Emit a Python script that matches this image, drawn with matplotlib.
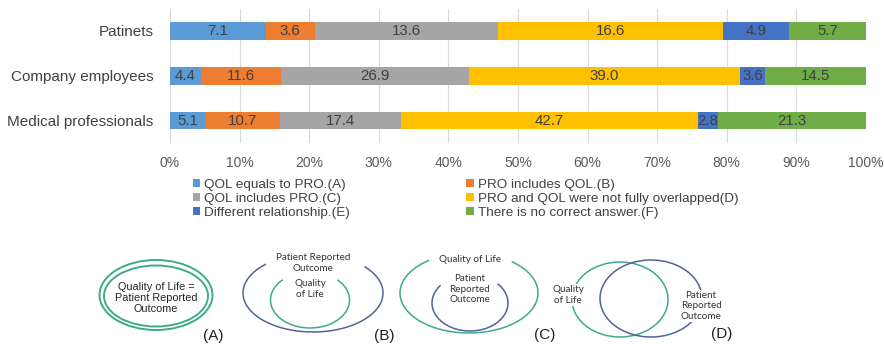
import matplotlib.pyplot as plt
import numpy as np
from matplotlib.patches import Ellipse, Patch

plt.rcParams["font.family"] = ["Liberation Sans", "DejaVu Sans"]

groups = ["Patinets", "Company employees", "Medical professionals"]
answers = [
    "QOL equals to PRO.(A)",
    "PRO includes QOL.(B)",
    "QOL includes PRO.(C)",
    "PRO and QOL were not fully overlapped(D)",
    "Different relationship.(E)",
    "There is no correct answer.(F)",
]
colors = ["#5B9BD5", "#ED7D31", "#A5A5A5", "#FFC000", "#4472C4", "#70AD47"]

qol_equals_pro = [7.1, 4.4, 5.1]
pro_includes_qol = [3.6, 11.6, 10.7]
qol_includes_pro = [13.6, 26.9, 17.4]
not_fully_overlapped = [16.6, 39.0, 42.7]
different_relationship = [4.9, 3.6, 2.8]
no_correct_answer = [5.7, 14.5, 21.3]

series = np.array([
    qol_equals_pro,
    pro_includes_qol,
    qol_includes_pro,
    not_fully_overlapped,
    different_relationship,
    no_correct_answer,
])
shares = series / series.sum(axis=0) * 100

fig = plt.figure(figsize=(8.84, 3.44), dpi=100)
ax = fig.add_axes([170 / 884, 1 - 143 / 344, 696 / 884, 134.4 / 344])

left = np.zeros(len(groups))
handles = []
for k in range(len(answers)):
    bars = ax.barh(groups, shares[k], left=left, height=0.39, color=colors[k],
                   label=answers[k], zorder=2)
    ax.bar_label(bars, labels=[f"{v:.1f}" for v in series[k]], label_type="center",
                 fontsize=10.8, color="#404040")
    left += shares[k]
    handles.append(Patch(facecolor=colors[k], label=answers[k]))

ax.set_xlim(0, 100)
ax.set_ylim(2.5, -0.5)
ax.set_xticks(np.arange(0, 101, 10))
ax.set_xticklabels([f"{t}%" for t in range(0, 101, 10)])
ax.tick_params(axis="x", length=0, pad=9, labelsize=10, labelcolor="#595959")
ax.tick_params(axis="y", length=0, pad=12, labelsize=11, labelcolor="#404040")
ax.grid(axis="x", color="#D9D9D9", linewidth=0.8, zorder=0)
for s in ax.spines.values():
    s.set_visible(False)

order = [0, 2, 4, 1, 3, 5]
fig.legend([handles[i] for i in order], [answers[i] for i in order],
           loc="upper left", bbox_to_anchor=(193 / 884, 1 - 179 / 344), ncol=2,
           frameon=False, fontsize=9.7, handlelength=0.55, handleheight=0.55,
           handletextpad=0.3, labelspacing=0.15, columnspacing=8.6,
           labelcolor="#404040", borderpad=0, borderaxespad=0)

# concept diagrams below the chart, drawn in pixel space (y measured from top)
dg = fig.add_axes([0, 0, 1, 1])
dg.set_xlim(0, 884)
dg.set_ylim(0, 344)
dg.axis("off")
dg.patch.set_alpha(0)


def Y(y):
    return 344 - y


def open_ellipse(cx, cy, w, h, t1, t2, color):
    # ellipse outline from parametric angle t1 to t2 (degrees), leaving a gap
    t = np.deg2rad(np.linspace(t1, t2, 200))
    dg.plot(cx + w / 2 * np.cos(t), Y(cy) + h / 2 * np.sin(t), color=color, lw=1.1)


green = "#3DAA8C"
navy = "#55619A"
dfont = dict(family=["Lato", "DejaVu Sans"], color="#333333", ha="center", va="center")

# (A)
dg.add_patch(Ellipse((156, Y(295)), 113, 70, fill=False, ec=green, lw=1.4))
dg.add_patch(Ellipse((156, Y(296)), 104, 61, fill=False, ec=green, lw=1.4))
dg.text(156, Y(298), "Quality of Life =\nPatient Reported\nOutcome", fontsize=7.8,
        color="#222222", ha="center", va="center", linespacing=1.15)

# (B)
open_ellipse(313, 293, 140, 78, 133, 402, navy)
open_ellipse(310, 300, 79, 56, 135, 405, green)
dg.text(313, Y(263), "Patient Reported\nOutcome", fontsize=7.1, linespacing=1.25, **dfont)
dg.text(310, Y(289), "Quality\nof Life", fontsize=7.1, linespacing=1.25, **dfont)

# (C)
open_ellipse(469, 293, 138, 80, 126, 411, green)
open_ellipse(470, 303, 76, 56, 142, 402, navy)
dg.text(470, Y(260), "Quality of Life", fontsize=7.1, **dfont)
dg.text(470, Y(289), "Patient\nReported\nOutcome", fontsize=7.1, linespacing=1.25, **dfont)

# (D)
dg.add_patch(Ellipse((620, Y(299.5)), 96, 75, fill=False, ec=green, lw=1.1))
dg.add_patch(Ellipse((651, Y(298.5)), 102, 77, fill=False, ec=navy, lw=1.1))
dg.text(568, Y(295), "Quality\nof Life", fontsize=7.1, linespacing=1.25,
        bbox=dict(fc="white", ec="none", pad=0.5), **dfont)
dg.text(701, Y(306), "Patient\nReported\nOutcome", fontsize=7.1, linespacing=1.25,
        bbox=dict(fc="white", ec="none", pad=0.5), **dfont)

for lab, x, y in [("(A)", 213, 336), ("(B)", 384, 336), ("(C)", 545, 335), ("(D)", 722, 334)]:
    dg.text(x, Y(y), lab, fontsize=11, color="#222222", ha="center", va="center")

fig.savefig("out.png", dpi=100)
